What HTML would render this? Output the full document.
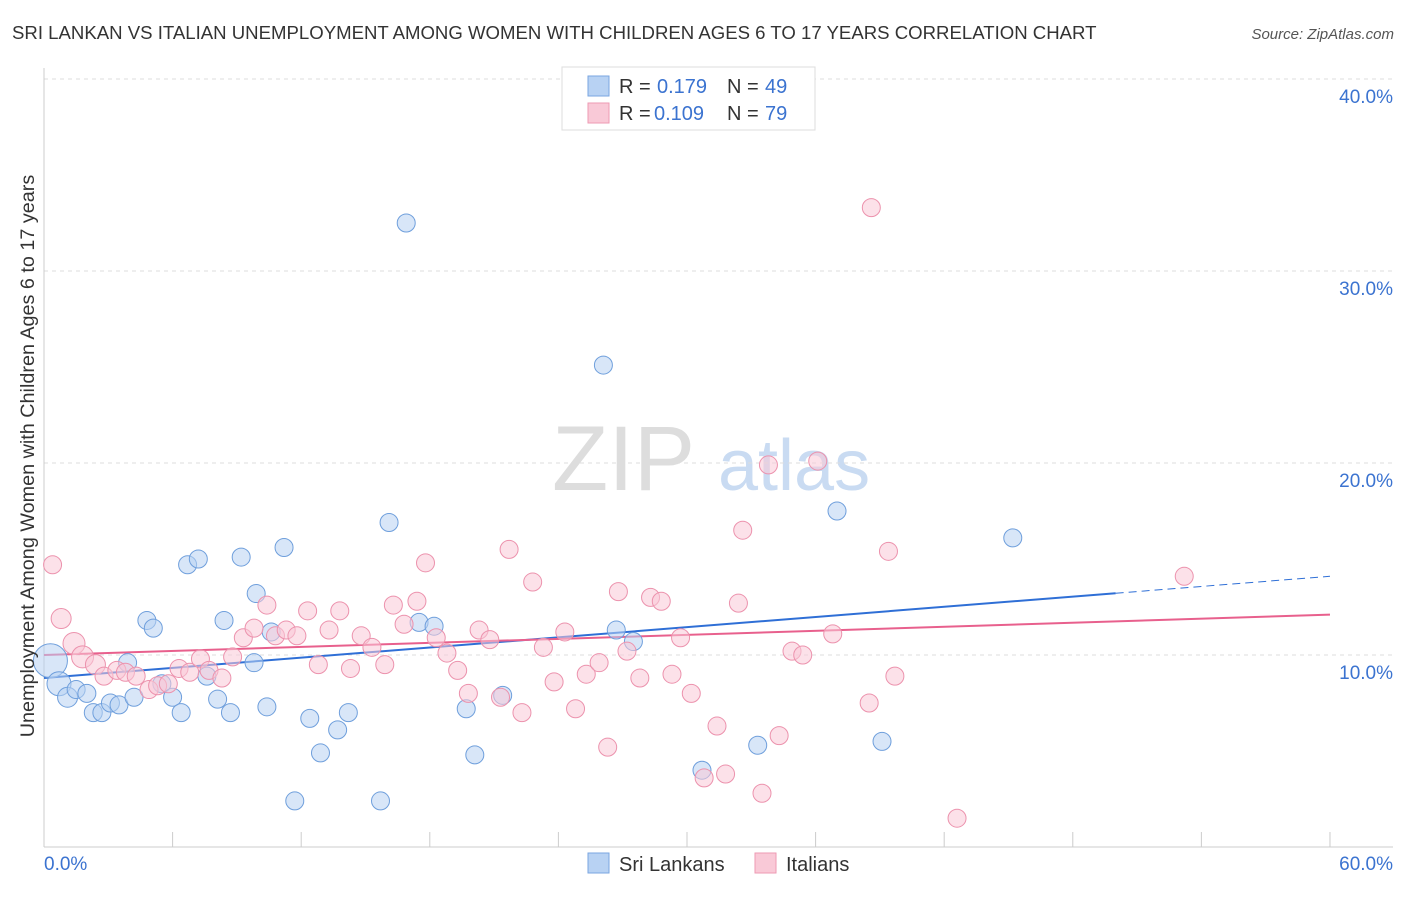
<!DOCTYPE html>
<html><head><meta charset="utf-8"><style>
body{margin:0;background:#fff;font-family:"Liberation Sans",sans-serif;}
svg text{font-family:"Liberation Sans",sans-serif;}
</style></head><body>
<svg id="chart" width="1406" height="892">
<text x="12" y="39" font-size="18.6" fill="#333">SRI LANKAN VS ITALIAN UNEMPLOYMENT AMONG WOMEN WITH CHILDREN AGES 6 TO 17 YEARS CORRELATION CHART</text>
<text x="1394" y="39" font-size="15" fill="#555" font-style="italic" text-anchor="end">Source: ZipAtlas.com</text>
<g><text x="552" y="490" font-size="92" fill="#ddd" font-family="Liberation Serif,serif">ZIP</text><text x="718" y="490" font-size="72" fill="#c9dbf2">atlas</text></g>
<g id="grid"></g><g id="axes"></g><g id="lines"></g><g id="pts"></g>
<text transform="translate(34,456) rotate(-90)" font-size="19.8" fill="#333" text-anchor="middle">Unemployment Among Women with Children Ages 6 to 17 years</text>
<g>
<rect x="562" y="67" width="253" height="63" fill="#fff" stroke="#ddd"/>
<rect x="588" y="76" width="21" height="20" fill="#b8d2f3" stroke="#7aa6e0"/>
<text x="619" y="93" font-size="20" fill="#333">R = </text><text x="657" y="93" font-size="20" fill="#3b73d0">0.179</text>
<text x="727" y="93" font-size="20" fill="#333">N = </text><text x="765" y="93" font-size="20" fill="#3b73d0">49</text>
<rect x="588" y="103" width="21" height="20" fill="#f9c9d7" stroke="#ee9ab3"/>
<text x="619" y="120" font-size="20" fill="#333">R = </text><text x="654" y="120" font-size="20" fill="#3b73d0">0.109</text>
<text x="727" y="120" font-size="20" fill="#333">N = </text><text x="765" y="120" font-size="20" fill="#3b73d0">79</text>
</g>
<g>
<rect x="588" y="853" width="21" height="20" fill="#b8d2f3" stroke="#7aa6e0"/>
<text x="619" y="871" font-size="20" fill="#333">Sri Lankans</text>
<rect x="755" y="853" width="21" height="20" fill="#f9c9d7" stroke="#ee9ab3"/>
<text x="786" y="871" font-size="20" fill="#333">Italians</text>
</g>
</svg>
<script>
const blueX=[0.3,0.7,1.1,1.5,2.0,2.3,2.7,3.1,3.5,3.9,4.2,4.8,5.1,5.5,6.0,6.4,6.7,7.2,7.6,8.1,8.4,8.7,9.2,9.8,9.9,10.4,10.6,11.2,11.7,12.4,12.9,13.7,14.2,15.7,16.1,16.9,17.5,18.2,19.7,20.1,21.4,26.1,26.7,27.5,30.7,33.3,37.0,39.1,45.2];
const blueY=[9.7,8.5,7.8,8.2,8.0,7.0,7.0,7.5,7.4,9.6,7.8,11.8,11.4,8.5,7.8,7.0,14.7,15.0,8.9,7.7,11.8,7.0,15.1,9.6,13.2,7.3,11.2,15.6,2.4,6.7,4.9,6.1,7.0,2.4,16.9,32.5,11.7,11.5,7.2,4.8,7.9,25.1,11.3,10.7,4.0,5.3,17.5,5.5,16.1];
const pinkX=[0.4,0.8,1.4,1.8,2.4,2.8,3.4,3.8,4.3,4.9,5.3,5.8,6.3,6.8,7.3,7.7,8.3,8.8,9.3,9.8,10.4,10.8,11.3,11.8,12.3,12.8,13.3,13.8,14.3,14.8,15.3,15.9,16.3,16.8,17.4,17.8,18.3,18.8,19.3,19.8,20.3,20.8,21.3,21.7,22.3,22.8,23.3,23.8,24.3,24.8,25.3,25.9,26.3,26.8,27.2,27.8,28.3,28.8,29.3,29.7,30.2,30.8,31.4,31.8,32.4,32.6,33.5,33.8,34.3,34.9,35.4,36.1,36.8,38.5,38.6,39.4,39.7,42.6,53.2];
const pinkY=[14.7,11.9,10.6,9.9,9.5,8.9,9.2,9.1,8.9,8.2,8.4,8.5,9.3,9.1,9.8,9.2,8.8,9.9,10.9,11.4,12.6,11.0,11.3,11.0,12.3,9.5,11.3,12.3,9.3,11.0,10.4,9.5,12.6,11.6,12.8,14.8,10.9,10.1,9.2,8.0,11.3,10.8,7.8,15.5,7.0,13.8,10.4,8.6,11.2,7.2,9.0,9.6,5.2,13.3,10.2,8.8,13.0,12.8,9.0,10.9,8.0,3.6,6.3,3.8,12.7,16.5,2.8,19.9,5.8,10.2,10.0,20.1,11.1,7.5,33.3,15.4,8.9,1.5,14.1];
const blueTrend=[8.8,14.1], pinkTrend=[10.0,12.1];
const yTicks=[10,20,30,40], yTickLabels=["10.0%","20.0%","30.0%","40.0%"];
const NS="http://www.w3.org/2000/svg";
const sx=v=>44+v*21.433, sy=v=>847-v*19.2;
function mk(tag,attrs,parent){const e=document.createElementNS(NS,tag);for(const k in attrs)e.setAttribute(k,attrs[k]);document.getElementById(parent).appendChild(e);return e;}
yTicks.forEach((t,i)=>{
 const g=mk('line',{x1:44,x2:1393,y1:sy(t),y2:sy(t),stroke:'#ddd','stroke-dasharray':'4,4'},'grid');
 
 
 const l=mk('text',{x:1393,y:sy(t)+24,'font-size':19,fill:'#3b73d0','text-anchor':'end'},'axes');
 l.textContent=yTickLabels[i];
 
 
});
mk('line',{x1:44,x2:44,y1:68,y2:847,stroke:'#ccc'},'axes');
mk('line',{x1:44,x2:1393,y1:847,y2:847,stroke:'#ccc'},'axes');
for(let i=1;i<=10;i++){const t=i*6;const tk=mk('line',{x1:sx(t),x2:sx(t),y1:832,y2:847,stroke:'#ccc'},'axes');}
const xl0=mk('text',{x:44,y:870,'font-size':19,fill:'#3b73d0'},'axes');xl0.textContent='0.0%';


const xl1=mk('text',{x:1393,y:870,'font-size':19,fill:'#3b73d0','text-anchor':'end'},'axes');xl1.textContent='60.0%';


function addPts(X,Y,fill,stroke,name,sizes){X.forEach((x,i)=>{const c=mk('circle',{cx:sx(x),cy:sy(Y[i]),r:sizes[i]||9,fill:fill,stroke:stroke,'fill-opacity':0.55,'stroke-width':1},'pts');
 
 });}
addPts(blueX,blueY,'#b8d2f3','#6f9fdc','sri-lankan-point',{0:17,1:12,2:10});
addPts(pinkX,pinkY,'#f9c9d7','#ec92ad','italian-point',{1:10,2:11,3:11,4:10});
const bEnd=50;
const bl=mk('line',{x1:sx(0),y1:sy(blueTrend[0]),x2:sx(bEnd),y2:sy(blueTrend[0]+(blueTrend[1]-blueTrend[0])*bEnd/60),stroke:'#2f6fd6','stroke-width':2},'lines');


const bd=mk('line',{x1:sx(bEnd),y1:sy(blueTrend[0]+(blueTrend[1]-blueTrend[0])*bEnd/60),x2:sx(60),y2:sy(blueTrend[1]),stroke:'#2f6fd6','stroke-width':1,'stroke-dasharray':'8,5'},'lines');


const pl=mk('line',{x1:sx(0),y1:sy(pinkTrend[0]),x2:sx(60),y2:sy(pinkTrend[1]),stroke:'#e8608d','stroke-width':2},'lines');


</script>
</body></html>
